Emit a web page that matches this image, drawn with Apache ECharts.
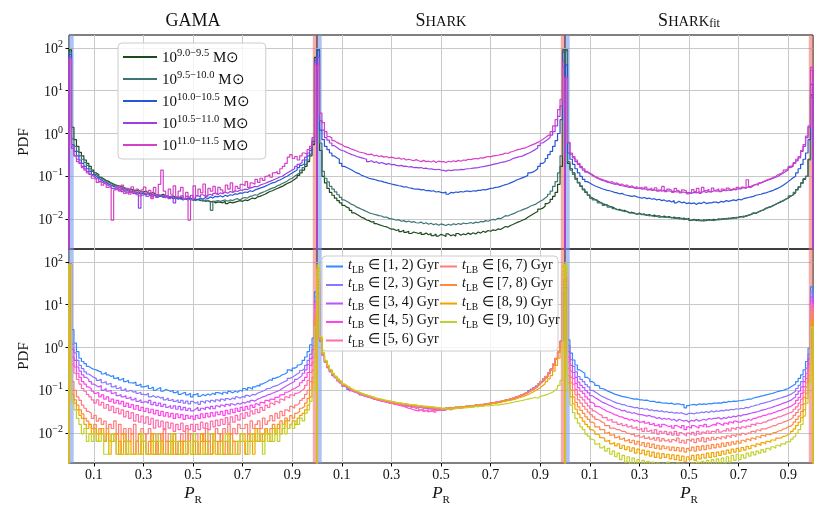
<!DOCTYPE html>
<html>
<head>
<meta charset="utf-8">
<script src="https://cdn.jsdelivr.net/npm/echarts@6/dist/echarts.min.js"></script>
<style>
  html, body { margin: 0; padding: 0; background: #fff; }
  #chart { width: 830px; height: 519px; }
</style>
</head>
<body>
<div id="chart"></div>
<script>
const FONT = 'Liberation Serif';
const binWidth = 0.01;           // 100 bins on P_R in [0, 1]
const xTicks = [0.1, 0.3, 0.5, 0.7, 0.9];
const yMin = 0.002, yMax = 200;

const massBins = ['9.0−9.5', '9.5−10.0', '10.0−10.5', '10.5−11.0', '11.0−11.5'];
const massColors = ['#1f4a1d', '#3e7474', '#2657d6', '#9a40e6', '#d441c4'];
const ageBins = ['[1, 2)', '[2, 3)', '[3, 4)', '[4, 5)', '[5, 6)', '[6, 7)', '[7, 8)', '[8, 9)', '[9, 10)'];
const ageColors = ['#3388ff', '#8877ff', '#bd55ff', '#ff44ec', '#ff6cae', '#ff7c7c', '#ff8a40', '#f0a400', '#c2d12c'];
const panelTitles = ['{r|GAMA}', '{r|S}{c|HARK}', '{r|S}{c|HARK}{f|fit}'];

// ---- top row: stellar mass bins ----
const gama_m90 = [90,1.4,.72,.5,.36,.3,.24,.2,.17,.14, .12,.11,.095,.088,.08,.076,.07,.066,.062,.06,
  .058,.055,.052,.05,.05,.048,.046,.047,.044,.043, .045,.041,.04,.042,.038,.037,.036,.038,.035,.034,
  .033,.035,.032,.031,.033,.03,.029,.031,.03,.028, .028,.029,.027,.028,.026,.027,.025,.026,.024,.025,
  .025,.024,.026,.023,.025,.024,.025,.026,.027,.026, .028,.027,.029,.031,.03,.033,.034,.036,.038,.041,
  .044,.046,.049,.052,.055,.058,.063,.068,.072,.078, .085,.094,.105,.12,.14,.17,.22,.3,.55,60];
const gama_m95 = [80,.75,.5,.38,.3,.25,.21,.18,.15,.13, .11,.1,.09,.082,.078,.07,.068,.062,.06,.056,
  .054,.05,.052,.047,.045,.046,.042,.043,.04,.041, .039,.04,.037,.038,.035,.036,.034,.035,.033,.032,
  .034,.031,.03,.032,.029,.031,.03,.028,.03,.029, .027,.029,.028,.026,.028,.027,.026,.016,.026,.027,
  .026,.027,.028,.026,.028,.027,.029,.03,.028,.031, .032,.031,.034,.035,.037,.036,.04,.042,.044,.047,
  .05,.053,.055,.06,.063,.068,.072,.078,.085,.09, .1,.11,.12,.14,.16,.19,.24,.33,.6,55];
const gama_m100 = [70,.55,.38,.3,.24,.2,.17,.15,.13,.11, .1,.09,.083,.075,.072,.065,.062,.058,.055,.051,
  .05,.047,.048,.044,.042,.045,.04,.041,.038,.04, .037,.039,.036,.034,.037,.033,.035,.032,.034,.031,
  .033,.03,.032,.029,.031,.028,.03,.029,.031,.028, .03,.028,.031,.029,.032,.03,.033,.031,.034,.033,
  .035,.033,.036,.034,.037,.036,.039,.038,.041,.04, .043,.042,.046,.044,.048,.05,.053,.055,.058,.062,
  .066,.07,.072,.078,.082,.088,.095,.1,.11,.12, .13,.14,.16,.18,.2,.24,.3,.4,.65,50];
const gama_m105 = [60,.45,.3,.25,.2,.17,.15,.13,.11,.1, .09,.085,.075,.07,.066,.06,.058,.052,.05,.047,
  .049,.044,.046,.041,.043,.039,.042,.037,.018,.036, .039,.034,.037,.033,.038,.032,.036,.034,.031,.035,
  .03,.034,.024,.033,.031,.035,.029,.034,.032,.036, .031,.035,.033,.037,.034,.036,.038,.035,.04,.037,
  .041,.039,.043,.04,.044,.042,.046,.044,.048,.047, .05,.049,.053,.055,.058,.057,.062,.065,.068,.072,
  .076,.08,.085,.09,.096,.1,.11,.12,.13,.14, .15,.17,.19,.21,.24,.28,.35,.45,.8,45];
const gama_m110 = [55,.5,.3,.22,.2,.16,.14,.12,.11,.09, .085,.072,.08,.062,.07,.055,.06,.0095,.048,.058,
  .045,.062,.04,.052,.038,.057,.042,.05,.035,.048, .056,.04,.047,.03,.055,.036,.065,.14,.045,.032,
  .05,.038,.06,.033,.045,.055,.03,.042,.0095,.028, .06,.035,.05,.041,.066,.034,.052,.045,.058,.04,
  .055,.048,.042,.062,.05,.07,.044,.058,.052,.065, .06,.075,.055,.07,.065,.085,.072,.09,.08,.1,
  .11,.095,.12,.13,.115,.15,.17,.2,.28,.32, .26,.29,.24,.3,.35,.33,.42,.5,.7,40];

const shark_m90 = [90,.4,.1,.07,.052,.042,.036,.031,.027,.024, .021,.019,.018,.016,.014,.013,.012,.011,.0105,.0095,
  .0092,.0085,.0088,.0078,.0074,.0071,.0068,.0066,.0062,.0058, .0058,.0054,.0057,.0051,.0055,.0049,.0052,.0046,.005,.0048,
  .0046,.0049,.0044,.0047,.0043,.0046,.0041,.0045,.004,.0044, .0042,.0039,.0045,.0041,.0043,.004,.0046,.0042,.0045,.0043,
  .0047,.0044,.0048,.0045,.005,.0047,.0052,.0049,.0054,.0052, .0056,.0054,.0059,.0057,.0062,.0067,.0065,.0071,.0075,.008,
  .0085,.0089,.0095,.01,.011,.012,.013,.014,.015,.017, .018,.02,.023,.025,.029,.034,.042,.065,.17,90];
const shark_m95 = [90,.6,.13,.09,.074,.058,.05,.043,.037,.032, .028,.026,.024,.022,.021,.019,.018,.017,.016,.015,
  .014,.0135,.013,.0125,.012,.0118,.011,.0112,.0104,.0101, .0098,.0094,.0097,.0089,.0092,.0086,.009,.0084,.0087,.0082,
  .0081,.0085,.0078,.0082,.0076,.008,.0074,.0078,.0072,.0077, .0074,.0071,.0076,.0072,.0078,.0074,.0079,.0075,.0081,.0078,
  .008,.0083,.0079,.0085,.0082,.0088,.0086,.0092,.0089,.0095, .0098,.0096,.0104,.0102,.011,.012,.0118,.0126,.0132,.014,
  .015,.0157,.0166,.0175,.0185,.02,.021,.022,.024,.026, .028,.031,.034,.038,.045,.058,.075,.12,.3,90];
const shark_m100 = [90,1.2,.72,.5,.42,.35,.3,.27,.25,.2, .17,.16,.15,.14,.13,.12,.115,.105,.1,.095,
  .09,.087,.085,.081,.078,.077,.073,.071,.068,.066, .064,.062,.06,.059,.056,.057,.054,.053,.051,.05,
  .05,.048,.049,.046,.047,.045,.046,.043,.044,.042, .041,.043,.038,.042,.041,.043,.042,.044,.043,.045,
  .045,.044,.046,.045,.047,.047,.049,.048,.05,.052, .053,.055,.056,.058,.061,.064,.066,.07,.074,.079,
  .084,.088,.093,.098,.105,.12,.125,.135,.15,.17, .2,.22,.26,.32,.38,.5,.68,1,2.1,80];
const shark_m105 = [60,2,1.2,.8,.7,.6,.52,.47,.43,.4, .39,.36,.34,.32,.31,.29,.28,.27,.26,.25,
  .22,.23,.21,.22,.2,.21,.2,.19,.2,.185, .19,.18,.175,.18,.17,.172,.165,.168,.16,.162,
  .157,.16,.152,.155,.148,.15,.145,.142,.146,.14, .138,.132,.14,.136,.139,.142,.14,.145,.143,.148,
  .15,.152,.155,.158,.16,.165,.168,.172,.178,.183, .19,.195,.2,.21,.215,.22,.23,.24,.26,.27,
  .28,.29,.3,.32,.34,.36,.39,.42,.46,.52, .6,.66,.72,.8,.92,1.1,1.5,2.5,4.4,50];
const shark_m110 = [40,3,1.8,1.1,.85,.79,.68,.62,.58,.55, .5,.48,.46,.43,.41,.39,.37,.36,.35,.33,
  .32,.33,.3,.31,.29,.3,.28,.29,.27,.28, .27,.26,.27,.25,.26,.24,.25,.24,.23,.245,
  .23,.22,.235,.22,.225,.215,.23,.21,.225,.22, .22,.21,.225,.215,.23,.22,.235,.225,.24,.235,
  .25,.245,.255,.26,.255,.27,.265,.28,.29,.285, .3,.305,.31,.32,.33,.35,.34,.37,.38,.4,
  .42,.43,.45,.46,.49,.52,.55,.58,.62,.67, .72,.8,.88,.95,1.1,1.5,2.1,3.6,6.3,35];

const fit_m90 = [90,.2,.15,.12,.09,.07,.058,.05,.042,.036, .031,.029,.027,.025,.023,.022,.021,.02,.019,.018,
  .0165,.017,.0155,.016,.0148,.014,.0145,.0135,.013,.0138, .0127,.0132,.0121,.0128,.0118,.0124,.0115,.012,.0112,.0117,
  .011,.0115,.0106,.0112,.0104,.0109,.0101,.0106,.0098,.0104, .0093,.0099,.0092,.0097,.009,.0096,.0092,.0098,.0094,.0099,
  .0096,.0101,.0097,.0103,.0099,.0106,.0102,.0109,.0105,.0112, .0115,.0111,.0119,.0124,.013,.014,.0135,.0148,.0155,.0165,
  .018,.0185,.0195,.021,.022,.024,.025,.027,.029,.031, .034,.037,.041,.049,.056,.07,.085,.1,.25,8];
const fit_m95 = [85,.22,.14,.11,.085,.072,.06,.048,.043,.037, .032,.028,.028,.024,.024,.021,.022,.019,.0195,.0175,
  .017,.016,.0162,.015,.0152,.0142,.0138,.014,.0128,.0134, .013,.0125,.0126,.0119,.0123,.0114,.0119,.0109,.0115,.011,
  .0112,.0108,.011,.0103,.0107,.01,.0105,.0097,.0102,.0096, .0095,.0094,.0098,.0091,.0095,.0089,.0097,.0093,.0096,.0092,
  .0098,.0095,.0101,.0098,.0104,.01,.0107,.0104,.011,.0108, .0112,.0117,.0115,.0122,.0127,.0136,.014,.0145,.0158,.0162,
  .0175,.019,.0192,.0205,.0225,.0235,.026,.0265,.0295,.0305, .035,.036,.042,.048,.057,.068,.088,.1,.24,7];
const fit_m100 = [40,.35,.25,.19,.15,.12,.1,.085,.075,.07, .064,.06,.057,.054,.051,.049,.047,.046,.044,.042,
  .041,.039,.04,.037,.036,.035,.034,.035,.033,.032, .031,.032,.03,.031,.029,.03,.028,.029,.027,.028,
  .026,.027,.025,.027,.024,.026,.024,.025,.023,.024, .023,.024,.022,.024,.023,.025,.023,.024,.024,.025,
  .025,.024,.026,.025,.027,.026,.027,.028,.027,.029, .028,.03,.031,.032,.033,.034,.036,.037,.038,.04,
  .041,.043,.045,.047,.05,.053,.057,.062,.068,.075, .083,.092,.1,.12,.15,.19,.25,.35,.72,14];
const fit_m105 = [20,.6,.33,.27,.22,.19,.16,.14,.125,.115, .105,.098,.09,.085,.08,.078,.073,.071,.068,.065,
  .066,.062,.06,.059,.057,.055,.056,.053,.052,.054, .05,.052,.049,.05,.047,.049,.046,.048,.045,.047,
  .045,.046,.044,.045,.043,.044,.042,.043,.041,.042, .04,.042,.041,.043,.042,.044,.042,.045,.043,.046,
  .045,.046,.044,.047,.046,.048,.047,.049,.05,.051, .052,.054,.053,.057,.058,.062,.064,.068,.07,.074,
  .078,.082,.086,.09,.095,.1,.11,.12,.13,.14, .16,.17,.2,.23,.27,.38,.5,.8,1.4,30];
const fit_m110 = [20,.62,.35,.29,.24,.2,.17,.15,.13,.12, .11,.1,.095,.088,.085,.08,.077,.072,.075,.068,
  .07,.064,.066,.06,.063,.057,.06,.054,.058,.052, .055,.05,.056,.048,.053,.047,.054,.045,.05,.058,
  .044,.05,.047,.042,.052,.046,.041,.048,.045,.039, .042,.049,.044,.052,.04,.055,.046,.05,.043,.053,
  .047,.051,.044,.05,.046,.053,.048,.052,.047,.055, .05,.056,.052,.083,.055,.06,.065,.062,.07,.075,
  .08,.085,.088,.095,.1,.11,.115,.125,.14,.15, .17,.18,.21,.25,.29,.4,.55,.87,1.5,35];

// ---- bottom row: lookback-time bins ----
const gama_t1 = [90,2.6,1.26,.8,.56,.47,.42,.36,.33,.31, .3,.28,.27,.24,.26,.23,.21,.22,.19,.2,
  .176,.19,.16,.17,.15,.147,.155,.13,.14,.12, .123,.13,.11,.12,.1,.11,.115,.095,.105,.1,
  .094,.1,.088,.095,.08,.086,.09,.078,.085,.07, .079,.085,.072,.08,.075,.082,.077,.085,.079,.088,
  .086,.08,.09,.083,.094,.087,.095,.09,.1,.095, .11,.1,.115,.105,.12,.13,.125,.14,.15,.16,
  .176,.17,.19,.2,.21,.23,.24,.26,.3,.28, .33,.35,.39,.42,.5,.6,.8,1.15,1.65,20];
const gama_t2 = [85,1.2,.75,.5,.38,.32,.27,.24,.22,.2, .19,.17,.18,.15,.16,.14,.145,.12,.13,.11,
  .12,.1,.11,.095,.1,.09,.095,.085,.09,.08, .078,.085,.07,.075,.068,.072,.065,.07,.06,.066,
  .058,.062,.055,.06,.052,.058,.05,.056,.048,.055, .05,.054,.047,.055,.05,.057,.052,.058,.053,.06,
  .055,.062,.057,.064,.06,.066,.062,.07,.065,.072, .068,.076,.072,.08,.078,.085,.09,.095,.1,.11,
  .11,.12,.125,.13,.14,.15,.16,.17,.19,.2, .22,.24,.26,.29,.32,.38,.5,.7,1.1,15];
const gama_t3 = [85,.9,.5,.35,.28,.23,.2,.18,.16,.14, .13,.12,.13,.1,.11,.095,.1,.085,.09,.075,
  .08,.07,.075,.065,.07,.06,.066,.055,.06,.052, .055,.05,.058,.046,.052,.044,.05,.042,.047,.04,
  .044,.038,.043,.036,.042,.035,.04,.034,.038,.033, .036,.04,.034,.038,.035,.04,.036,.042,.037,.043,
  .04,.045,.041,.047,.043,.048,.045,.05,.047,.052, .05,.055,.052,.058,.056,.062,.065,.07,.072,.078,
  .08,.085,.09,.095,.1,.11,.12,.13,.14,.15, .16,.18,.2,.22,.25,.3,.4,.55,.9,12];
const gama_t4 = [88,.6,.35,.25,.2,.16,.14,.12,.11,.095, .085,.09,.07,.078,.062,.07,.055,.062,.05,.058,
  .048,.055,.042,.05,.04,.046,.036,.044,.034,.04, .032,.038,.03,.036,.028,.034,.026,.032,.025,.03,
  .024,.029,.022,.028,.023,.027,.021,.026,.022,.025, .021,.026,.022,.028,.023,.029,.024,.03,.025,.031,
  .027,.032,.026,.034,.028,.036,.03,.038,.032,.04, .034,.042,.036,.045,.04,.048,.044,.052,.05,.058,
  .055,.062,.06,.068,.07,.078,.08,.09,.095,.105, .11,.12,.13,.15,.17,.2,.26,.38,.6,10];
const gama_t5 = [88,.4,.25,.18,.14,.11,.095,.08,.07,.06, .05,.06,.045,.052,.038,.046,.034,.042,.03,.038,
  .028,.035,.024,.032,.022,.03,.019,.027,.018,.025, .017,.024,.016,.022,.013,.02,.014,.019,.012,.018,
  .013,.017,.011,.016,.012,.017,.011,.015,.012,.016, .011,.016,.012,.018,.013,.017,.012,.019,.014,.02,
  .015,.021,.016,.023,.017,.024,.018,.026,.02,.028, .022,.03,.025,.033,.028,.036,.03,.04,.034,.045,
  .04,.05,.045,.055,.05,.062,.058,.07,.066,.078, .075,.085,.09,.1,.11,.13,.17,.26,.45,8];
const gama_t6 = [88,.16,.1,.07,.058,.045,.038,.032,.029,.022, .026,.019,.022,.016,.019,.0128,.016,.0128,.0192,.0096,
  .016,.0096,.0128,.0064,.0128,.0096,.016,.0064,.0096,.0128, .0064,.0096,.0128,.0064,.0096,.0032,.0096,.0064,.0128,.0064,
  .0096,.0064,.0096,.0032,.0064,.0096,.0064,.0128,.0064,.0096, .0064,.0096,.0032,.0096,.0064,.0128,.0064,.0096,.0064,.0128,
  .0096,.0064,.0128,.0096,.016,.0096,.0128,.0096,.016,.0128, .0128,.016,.0096,.0192,.0128,.016,.0192,.0128,.0224,.016,
  .0192,.0256,.0192,.0288,.0224,.032,.0256,.035,.032,.042, .038,.045,.05,.058,.065,.08,.1,.16,.3,6];
const gama_t7 = [88,.1,.06,.045,.035,.028,.022,.019,.016,.0128, .016,.0096,.0128,.0096,.0064,.0128,.0064,.0096,.0064,.0096,
  .0032,.0096,.0064,.0032,.0064,.0096,.0032,.0064,.0032,.0064, .0096,.0032,.0064,.0032,.0032,.0064,.0032,.0096,.0032,.0064,
  .0032,.0064,.0032,.0032,.0064,.0032,.0064,.0032,.0096,.0032, .0064,.0032,.0032,.0064,.0096,.0032,.0064,.0032,.0064,.0032,
  .0064,.0096,.0032,.0064,.0032,.0096,.0064,.0032,.0064,.0096, .0064,.0032,.0096,.0064,.0096,.0064,.0128,.0064,.0096,.0128,
  .0096,.0128,.016,.0096,.0128,.0192,.016,.0224,.0192,.0256, .0224,.029,.032,.038,.042,.05,.065,.1,.2,5];
const gama_t8 = [88,.08,.05,.035,.026,.022,.016,.0128,.016,.0096, .0128,.0064,.0096,.0128,.0064,.0096,.0032,.0064,.0096,.0032,
  .0064,.0032,.0096,.0032,.0064,.0032,.0032,.0064,.0096,.0032, .0064,.0032,.0032,.0096,.0032,.0064,.0032,.0064,.0032,.0032,
  .0064,.0032,.0096,.0032,.0032,.0064,.0032,.0032,.0064,.0032, .0032,.0064,.0032,.0096,.0032,.0064,.0032,.0032,.0096,.0064,
  .0032,.0064,.0032,.0032,.0096,.0032,.0064,.0064,.0032,.0064, .0096,.0032,.0064,.0096,.0032,.0128,.0064,.0096,.0064,.0128,
  .0096,.0064,.0128,.0096,.016,.0096,.0128,.0192,.0128,.016, .0192,.016,.0224,.026,.029,.035,.045,.07,.15,4];
const gama_t9 = [85,.055,.035,.022,.016,.0096,.0128,.0064,.0096,.0064, .0096,.0064,.0064,.0096,.0032,.0032,.0064,.0096,.0064,.0032,
  .0032,.0032,.0032,.0064,.0032,.0032,.0032,.0032,.0032,.0096, .0064,.0032,.0032,.0032,.0064,.0096,.0064,.0032,.0032,.0032,
  .0032,.0096,.0064,.0064,.0032,.0032,.0032,.0064,.0064,.0032, .0096,.0064,.0032,.0032,.0032,.0032,.0096,.0096,.0064,.0032,
  .0032,.0032,.0064,.0096,.0064,.0032,.0032,.0032,.0064,.0096, .0064,.0064,.0032,.0096,.0064,.0064,.0096,.0064,.0032,.0096,
  .0064,.0096,.0064,.0128,.0064,.0096,.016,.0096,.0128,.016, .0128,.0192,.016,.0224,.0192,.029,.035,.055,.1,3];

const shark_t1 = [18,1.4,.66,.45,.34,.27,.22,.2,.165,.15, .125,.12,.105,.1,.092,.09,.082,.08,.074,.073,
  .068,.067,.062,.063,.058,.058,.054,.056,.051,.052, .048,.05,.046,.047,.044,.046,.042,.045,.041,.043,
  .04,.042,.038,.041,.037,.04,.036,.039,.035,.038, .036,.039,.037,.04,.038,.041,.039,.042,.04,.043,
  .041,.044,.042,.046,.043,.047,.045,.049,.047,.051, .049,.053,.052,.056,.055,.06,.059,.064,.064,.07,
  .07,.077,.078,.086,.088,.098,.102,.115,.122,.142, .158,.185,.205,.255,.3,.41,.54,.82,1.38,18];
const shark_t2 = [25,1.5,.7,.47,.35,.29,.23,.2,.17,.155, .13,.118,.112,.098,.097,.088,.087,.078,.077,.071,
  .071,.065,.065,.06,.061,.056,.057,.053,.054,.05, .051,.047,.049,.045,.047,.043,.045,.042,.044,.04,
  .043,.039,.041,.038,.04,.037,.04,.036,.038,.035, .038,.036,.039,.036,.04,.037,.041,.038,.042,.039,
  .043,.04,.044,.042,.045,.043,.047,.045,.049,.047, .051,.05,.054,.052,.057,.056,.061,.06,.066,.066,
  .072,.073,.08,.082,.091,.094,.106,.11,.127,.137, .162,.176,.212,.245,.315,.39,.56,.78,1.42,25];
const shark_t3 = [30,1.6,.69,.46,.36,.28,.235,.195,.172,.148, .132,.12,.108,.102,.093,.091,.083,.081,.075,.074,
  .069,.068,.063,.061,.059,.057,.055,.054,.052,.051, .049,.048,.047,.046,.045,.044,.043,.042,.041,.041,
  .041,.04,.039,.038,.037,.036,.036,.035,.034,.034, .034,.035,.036,.035,.037,.038,.039,.038,.04,.041,
  .042,.041,.043,.045,.044,.046,.047,.046,.049,.05, .05,.052,.054,.053,.057,.058,.06,.063,.065,.067,
  .071,.075,.078,.084,.089,.095,.103,.112,.124,.139, .158,.18,.208,.25,.305,.4,.545,.79,1.4,30];
const shark_t4 = [35,1.5,.67,.45,.34,.28,.225,.2,.168,.15, .128,.118,.11,.098,.094,.088,.084,.078,.075,.071,
  .069,.066,.062,.061,.058,.056,.055,.053,.051,.05, .048,.047,.045,.044,.042,.04,.038,.037,.035,.034,
  .033,.035,.032,.034,.031,.033,.032,.035,.034,.036, .037,.036,.038,.037,.039,.038,.04,.039,.041,.04,
  .042,.043,.042,.044,.045,.044,.046,.048,.047,.049, .05,.051,.052,.054,.055,.057,.06,.061,.064,.067,
  .07,.074,.078,.083,.089,.095,.102,.111,.123,.138, .157,.178,.207,.248,.305,.39,.54,.78,1.38,35];
const shark_t5 = [40,1.5,.68,.46,.35,.28,.23,.2,.17,.15, .13,.12,.11,.1,.095,.09,.085,.08,.076,.073,
  .07,.066,.065,.06,.06,.057,.055,.054,.052,.05, .049,.046,.047,.043,.045,.041,.043,.039,.041,.037,
  .039,.035,.037,.033,.036,.032,.035,.031,.036,.034, .036,.035,.037,.036,.038,.037,.04,.039,.041,.042,
  .042,.044,.043,.045,.044,.046,.047,.047,.049,.05, .05,.052,.053,.054,.056,.058,.06,.062,.065,.068,
  .071,.075,.08,.084,.09,.096,.104,.113,.125,.14, .16,.18,.21,.25,.31,.4,.55,.8,1.4,40];
const shark_t6 = [50,1.55,.7,.47,.35,.29,.235,.205,.17,.155, .133,.122,.112,.101,.097,.091,.086,.081,.077,.074,
  .071,.068,.064,.063,.061,.058,.057,.055,.054,.052, .05,.05,.048,.048,.046,.046,.045,.044,.043,.042,
  .042,.041,.04,.04,.039,.039,.038,.038,.037,.036, .036,.037,.036,.038,.037,.039,.038,.04,.039,.041,
  .041,.043,.042,.044,.043,.046,.045,.048,.047,.05, .049,.052,.052,.055,.055,.059,.059,.063,.064,.069,
  .07,.076,.078,.085,.088,.097,.102,.114,.123,.141, .158,.181,.208,.252,.305,.41,.54,.81,1.38,50];
const shark_t7 = [60,1.6,.72,.48,.36,.29,.24,.21,.175,.158, .136,.125,.115,.104,.099,.094,.088,.083,.079,.076,
  .073,.07,.066,.064,.062,.06,.058,.057,.055,.054, .052,.05,.05,.048,.048,.046,.046,.045,.044,.043,
  .043,.042,.041,.041,.04,.04,.039,.039,.038,.038, .037,.038,.038,.039,.039,.04,.04,.041,.041,.042,
  .042,.043,.044,.044,.045,.046,.046,.047,.048,.05, .05,.051,.053,.054,.056,.058,.06,.062,.065,.068,
  .071,.075,.079,.083,.089,.095,.103,.112,.123,.138, .156,.177,.205,.245,.3,.39,.53,.78,1.35,60];
const shark_t8 = [70,1.7,.74,.49,.37,.3,.245,.21,.18,.16, .138,.127,.117,.106,.1,.095,.09,.084,.08,.077,
  .074,.071,.067,.065,.063,.061,.059,.058,.056,.055, .053,.052,.05,.05,.048,.048,.047,.046,.045,.045,
  .044,.043,.042,.042,.041,.041,.04,.039,.039,.038, .038,.038,.039,.039,.039,.04,.04,.041,.041,.042,
  .042,.043,.043,.044,.044,.045,.046,.046,.047,.048, .049,.05,.051,.052,.054,.055,.057,.058,.06,.062,
  .065,.068,.071,.075,.079,.084,.09,.097,.105,.115, .128,.142,.16,.185,.22,.28,.38,.56,1,80];
const shark_t9 = [85,1.8,.78,.5,.38,.31,.25,.215,.185,.165, .142,.13,.12,.11,.103,.097,.091,.086,.082,.078,
  .075,.072,.069,.066,.064,.062,.06,.058,.057,.055, .054,.052,.051,.05,.049,.048,.047,.046,.046,.045,
  .044,.044,.043,.042,.042,.041,.041,.04,.04,.039, .036,.038,.035,.037,.036,.038,.037,.039,.038,.04,
  .039,.041,.04,.042,.041,.043,.042,.044,.043,.045, .044,.046,.045,.047,.047,.049,.049,.051,.052,.054,
  .055,.057,.058,.06,.062,.064,.066,.068,.065,.072, .074,.077,.08,.085,.09,.1,.11,.13,.17,85];

const fit_t1 = [25,1.5,.74,.51,.39,.3,.27,.25,.2,.18, .16,.145,.13,.125,.11,.105,.097,.092,.087,.081,
  .078,.075,.072,.07,.068,.066,.064,.062,.063,.06, .06,.058,.059,.056,.055,.055,.052,.053,.051,.05,
  .05,.049,.05,.047,.048,.048,.046,.047,.039,.044, .046,.047,.045,.048,.047,.048,.047,.049,.048,.05,
  .05,.051,.05,.053,.052,.055,.054,.056,.055,.057, .057,.059,.06,.062,.062,.066,.068,.07,.073,.075,
  .078,.08,.083,.086,.09,.094,.097,.1,.105,.11, .12,.13,.14,.16,.19,.23,.3,.47,.96,26];
const fit_t2 = [30,1.1,.52,.36,.27,.21,.18,.16,.135,.12, .1,.093,.085,.078,.072,.068,.063,.06,.056,.053,
  .05,.049,.046,.046,.043,.042,.041,.039,.04,.037, .038,.036,.037,.034,.035,.033,.034,.032,.033,.031,
  .032,.03,.031,.029,.03,.029,.03,.028,.027,.029, .029,.028,.03,.029,.031,.03,.032,.03,.033,.031,
  .033,.032,.034,.033,.035,.034,.036,.035,.037,.036, .038,.037,.04,.039,.042,.043,.045,.046,.049,.05,
  .052,.054,.056,.059,.061,.064,.066,.069,.072,.076, .08,.088,.095,.11,.13,.16,.21,.33,.7,20];
const fit_t3 = [35,.8,.38,.26,.2,.155,.13,.115,.098,.087, .075,.068,.063,.058,.053,.05,.047,.044,.042,.039,
  .037,.036,.033,.034,.031,.031,.029,.03,.028,.027, .027,.026,.025,.026,.024,.024,.022,.023,.021,.022,
  .021,.022,.02,.021,.019,.021,.02,.019,.02,.018, .02,.019,.021,.019,.02,.021,.02,.022,.021,.022,
  .022,.023,.021,.023,.022,.024,.023,.025,.024,.026, .025,.027,.027,.028,.029,.03,.031,.032,.034,.035,
  .036,.038,.039,.041,.043,.045,.047,.05,.052,.055, .058,.064,.07,.08,.095,.12,.16,.25,.55,15];
const fit_t4 = [40,.6,.28,.19,.145,.115,.095,.085,.07,.062, .052,.048,.042,.041,.037,.035,.032,.031,.029,.027,
  .026,.024,.024,.022,.022,.02,.021,.019,.02,.018, .018,.019,.017,.018,.016,.017,.015,.016,.014,.016,
  .015,.014,.015,.013,.015,.014,.013,.015,.012,.014, .013,.015,.014,.013,.015,.014,.016,.014,.015,.016,
  .015,.017,.016,.015,.017,.016,.018,.017,.019,.018, .018,.02,.019,.021,.02,.022,.022,.024,.024,.026,
  .026,.028,.028,.03,.031,.033,.034,.036,.038,.04, .042,.046,.05,.058,.068,.085,.12,.19,.42,12];
const fit_t5 = [45,.45,.2,.14,.105,.08,.068,.06,.05,.043, .037,.033,.03,.027,.026,.023,.023,.02,.021,.018,
  .018,.016,.017,.015,.016,.014,.015,.013,.014,.012, .013,.011,.013,.011,.012,.01,.012,.0095,.011,.0098,
  .011,.0092,.0105,.009,.011,.0088,.0102,.0094,.0085,.01, .0092,.0104,.0089,.011,.0094,.0105,.0097,.0112,.0098,.011,
  .0103,.012,.0105,.0115,.011,.0125,.0112,.013,.012,.0135, .0125,.014,.013,.0145,.014,.016,.015,.017,.0165,.018,
  .018,.02,.02,.022,.022,.024,.024,.026,.027,.029, .03,.032,.036,.041,.05,.062,.09,.15,.35,10];
const fit_t6 = [55,.32,.15,.1,.078,.06,.05,.042,.036,.031, .027,.024,.021,.02,.018,.017,.015,.015,.013,.013,
  .012,.012,.011,.011,.01,.0098,.0092,.0096,.0085,.009, .008,.0088,.0075,.0082,.0072,.008,.0068,.0078,.0065,.0074,
  .0066,.0072,.0062,.007,.0064,.0076,.006,.0068,.0058,.007, .0064,.0072,.006,.0074,.0065,.0078,.0062,.0076,.0068,.008,
  .007,.0078,.0072,.0082,.0074,.0086,.0078,.009,.0082,.0094, .0088,.0098,.0092,.0102,.0098,.011,.0104,.0118,.0112,.0125,
  .0125,.0135,.0138,.015,.015,.0165,.0168,.018,.0188,.02, .021,.023,.026,.03,.036,.046,.068,.12,.3,8];
const fit_t7 = [65,.22,.1,.07,.052,.041,.034,.029,.024,.021, .018,.017,.014,.014,.012,.012,.01,.0105,.009,.0092,
  .0078,.0085,.0072,.0078,.0066,.0072,.006,.0068,.0055,.0064, .0052,.006,.0048,.0058,.0046,.0055,.0044,.0052,.0042,.005,
  .0043,.0048,.004,.0047,.0039,.0046,.0038,.0045,.0036,.0044, .0039,.0047,.0038,.0049,.004,.005,.0041,.0052,.0043,.0054,
  .0045,.0055,.0047,.0058,.0049,.006,.0052,.0062,.0055,.0065, .0058,.0068,.0062,.0072,.0066,.0076,.0071,.0082,.0077,.0088,
  .0084,.0094,.0092,.0102,.0102,.0112,.0114,.0124,.0128,.014, .0145,.016,.018,.021,.025,.032,.048,.085,.22,6];
const fit_t8 = [75,.15,.07,.048,.036,.028,.023,.019,.016,.014, .012,.011,.0095,.009,.0078,.0076,.0065,.0068,.0056,.006,
  .005,.0056,.0044,.0052,.0041,.0048,.0038,.0045,.0034,.0042, .0033,.004,.0031,.0038,.0029,.0036,.0027,.0034,.0026,.0033,
  .0027,.0032,.0025,.0031,.0024,.003,.0023,.0029,.0022,.0028, .0024,.003,.0023,.0031,.0025,.0032,.0026,.0034,.0027,.0035,
  .0028,.0036,.003,.0038,.0032,.004,.0034,.0042,.0036,.0044, .0038,.0046,.004,.0049,.0043,.0052,.0047,.0056,.0051,.006,
  .0056,.0064,.0061,.0069,.0068,.0076,.0076,.0084,.0085,.0094, .0098,.011,.0125,.015,.018,.023,.035,.065,.17,4];
const fit_t9 = [90,.1,.045,.03,.022,.017,.014,.012,.0095,.0085, .0072,.0068,.0055,.0058,.0045,.005,.0038,.0044,.0032,.0038,
  .0028,.0034,.0024,.003,.0021,.0028,.0019,.0026,.0017,.0024, .0018,.0023,.0016,.0022,.0015,.0021,.0016,.002,.0014,.0019,
  .0015,.0021,.0014,.0019,.0015,.002,.0013,.0019,.0014,.0018, .0015,.002,.0014,.0021,.0016,.0022,.0015,.0023,.0016,.0024,
  .0017,.0025,.0018,.0026,.002,.0028,.0021,.003,.0023,.0032, .0024,.0031,.0026,.0034,.0029,.0036,.0031,.0038,.0034,.0041,
  .0036,.0044,.004,.0048,.0044,.0052,.0049,.0056,.0055,.0062, .0064,.0072,.0082,.0098,.012,.016,.025,.05,.14,3];

const topPanels = [
  [gama_m90, gama_m95, gama_m100, gama_m105, gama_m110],
  [shark_m90, shark_m95, shark_m100, shark_m105, shark_m110],
  [fit_m90, fit_m95, fit_m100, fit_m105, fit_m110]
];
const bottomPanels = [
  [gama_t1, gama_t2, gama_t3, gama_t4, gama_t5, gama_t6, gama_t7, gama_t8, gama_t9],
  [shark_t1, shark_t2, shark_t3, shark_t4, shark_t5, shark_t6, shark_t7, shark_t8, shark_t9],
  [fit_t1, fit_t2, fit_t3, fit_t4, fit_t5, fit_t6, fit_t7, fit_t8, fit_t9]
];

// step outline like a matplotlib 'step' histogram (drops to the floor at both ends)
function stepData(vals) {
  const floor = 1e-4;
  const pts = [[0, floor]];
  vals.forEach((v, k) => pts.push([+(k * binWidth).toFixed(2), v]));
  pts.push([1, vals[vals.length - 1]], [1, floor]);
  return pts;
}

const chart = echarts.init(document.getElementById('chart'));

const colLeft = [69, 317, 565];
const rowTop = [35, 249];
const grids = [], xAxes = [], yAxes = [], series = [];
const gridColor = '#c8c8c8';

for (let r = 0; r < 2; r++) {
  for (let c = 0; c < 3; c++) {
    const gi = r * 3 + c;
    grids.push({ left: colLeft[c], top: rowTop[r], width: 248, height: 214,
      show: true, borderColor: '#000', borderWidth: 1, backgroundColor: 'transparent' });
    xAxes.push({
      gridIndex: gi, type: 'value', min: 0, max: 1,
      axisLine: { show: false },
      axisTick: { show: r === 1, customValues: xTicks, length: 3.5, lineStyle: { color: '#000' } },
      axisLabel: { show: r === 1, customValues: xTicks, formatter: v => v.toFixed(1),
        fontFamily: FONT, fontSize: 14, color: '#111', margin: 5 },
      splitLine: { show: true, lineStyle: { color: gridColor, width: 1 } },
      name: r === 1 ? '{p|P}{s|R}' : '',
      nameLocation: 'middle', nameGap: 22,
      nameTextStyle: { rich: {
        p: { fontFamily: FONT, fontStyle: 'italic', fontSize: 17, color: '#111', verticalAlign: 'bottom', padding: [0, 0, 4, 0] },
        s: { fontFamily: FONT, fontSize: 11, color: '#111', verticalAlign: 'bottom' }
      } }
    });
    yAxes.push({
      gridIndex: gi, type: 'log', logBase: 10, min: yMin, max: yMax,
      axisLine: { show: false },
      axisTick: { show: c === 0, length: 3.5, lineStyle: { color: '#000' } },
      axisLabel: {
        show: c === 0, showMinLabel: false, showMaxLabel: false, margin: 6,
        formatter: v => {
          const e = Math.round(Math.log10(v));
          return '{b|10}{s|' + (e < 0 ? '−' + (-e) : e) + '}';
        },
        rich: {
          b: { fontFamily: FONT, fontSize: 14, color: '#111', verticalAlign: 'bottom' },
          s: { fontFamily: FONT, fontSize: 10, color: '#111', verticalAlign: 'bottom', padding: [0, 0, 7, 0] }
        }
      },
      splitLine: { show: true, showMinLine: false, showMaxLine: false, lineStyle: { color: gridColor, width: 1 } },
      name: c === 0 ? 'PDF' : '',
      nameLocation: 'middle', nameGap: 37, nameRotate: 90,
      nameTextStyle: { fontFamily: FONT, fontSize: 15, color: '#111' }
    });

    const group = r === 0 ? topPanels[c] : bottomPanels[c];
    const names = r === 0 ? massBins : ageBins;
    const colors = r === 0 ? massColors : ageColors;
    group.forEach((vals, k) => {
      const s = {
        type: 'line', name: names[k], xAxisIndex: gi, yAxisIndex: gi,
        data: stepData(vals), step: 'end', symbol: 'none', showSymbol: false,
        clip: true, silent: true, animation: false,
        lineStyle: { color: colors[k], width: 1.2 },
        itemStyle: { color: colors[k] }
      };
      if (k === 0) {
        s.markArea = { silent: true, data: [
          [{ xAxis: 0, itemStyle: { color: 'rgba(120,155,235,0.6)' } }, { xAxis: 0.019 }],
          [{ xAxis: 0.983, itemStyle: { color: 'rgba(235,105,95,0.55)' } }, { xAxis: 1 }]
        ] };
      }
      series.push(s);
    });
  }
}

const titleRich = {
  r: { fontFamily: FONT, fontSize: 18, fontWeight: 'normal', color: '#111', verticalAlign: 'bottom' },
  c: { fontFamily: FONT, fontSize: 14.5, fontWeight: 'normal', color: '#111', verticalAlign: 'bottom' },
  f: { fontFamily: FONT, fontSize: 12, fontWeight: 'normal', color: '#111', verticalAlign: 'bottom' }
};

const legendRichAge = {
  t: { fontFamily: FONT, fontStyle: 'italic', fontSize: 14, color: '#111', verticalAlign: 'bottom', padding: [0, 0, 3, 0] },
  l: { fontFamily: FONT, fontSize: 9.5, color: '#111', verticalAlign: 'bottom' },
  b: { fontFamily: FONT, fontSize: 14, color: '#111', verticalAlign: 'bottom', padding: [0, 0, 3, 0] }
};
const ageLegend = (items, left) => ({
  data: items, left: left, top: 258, orient: 'vertical', selectedMode: false,
  icon: 'rect', itemWidth: 17, itemHeight: 2, itemGap: 1.5, padding: 0,
  formatter: n => '{t|t}{l|LB}{b| ∈ ' + n + ' Gyr}',
  textStyle: { rich: legendRichAge }
});

chart.setOption({
  backgroundColor: '#fff',
  animation: false,
  title: panelTitles.map((t, c) => ({
    text: t, left: colLeft[c] + 124, top: 12, textAlign: 'center', padding: 0,
    textStyle: { fontWeight: 'normal', rich: titleRich }
  })),
  grid: grids,
  xAxis: xAxes,
  yAxis: yAxes,
  legend: [
    {
      data: massBins, left: 118, top: 43, orient: 'vertical', selectedMode: false,
      icon: 'rect', itemWidth: 34, itemHeight: 2, itemGap: 4,
      backgroundColor: 'rgba(255,255,255,0.8)', borderColor: '#cccccc', borderWidth: 1, borderRadius: 4,
      padding: [5, 16, 5, 5],
      formatter: n => '{b|10}{s|' + n + '}{b| M⊙}',
      textStyle: { rich: {
        b: { fontFamily: FONT, fontSize: 15, color: '#111', verticalAlign: 'bottom' },
        s: { fontFamily: FONT, fontSize: 10.5, color: '#111', verticalAlign: 'bottom', padding: [0, 0, 7, 0] }
      } }
    },
    ageLegend(ageBins.slice(0, 5), 326),
    ageLegend(ageBins.slice(5), 440)
  ],
  graphic: [{
    type: 'rect', z: 3, silent: true,
    shape: { x: 322, y: 256, width: 236, height: 95, r: 4 },
    style: { fill: 'rgba(255,255,255,0.8)', stroke: '#cccccc', lineWidth: 1 }
  }],
  series: series
});
</script>
</body>
</html>
